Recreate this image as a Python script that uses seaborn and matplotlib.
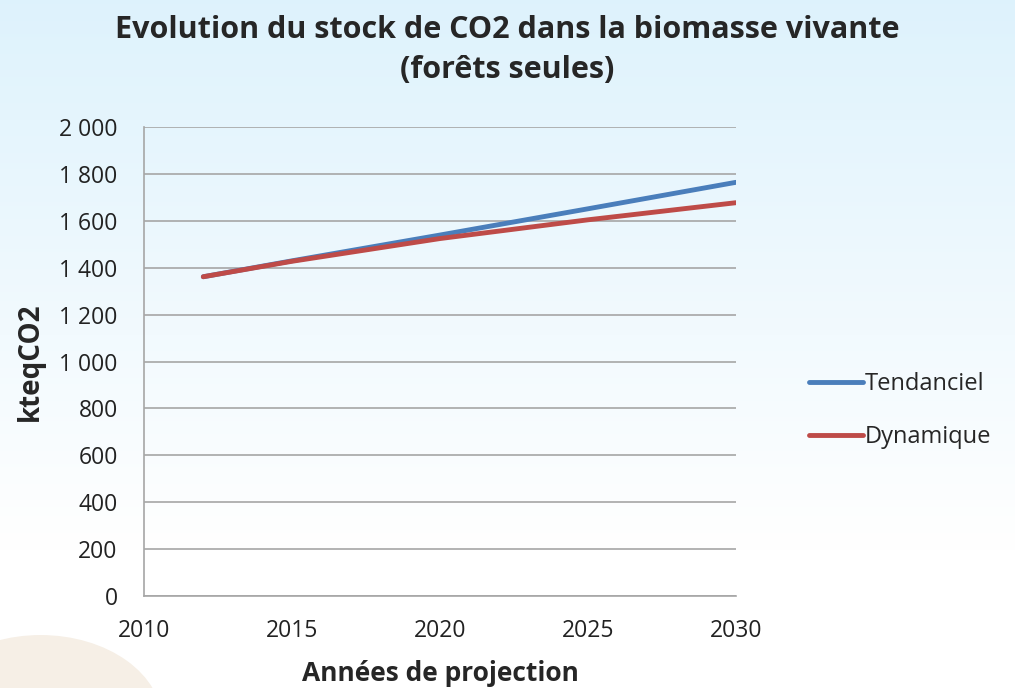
import numpy as np
import pandas as pd
import matplotlib
matplotlib.use("Agg")
import matplotlib.pyplot as plt
import seaborn as sns
from matplotlib.patches import Ellipse
from matplotlib.ticker import FuncFormatter

years = [2012, 2015, 2020, 2025, 2030]
tendanciel = [1362, 1430, 1540, 1652, 1765]
dynamique = [1362, 1428, 1525, 1605, 1678]
series_names = ["Tendanciel", "Dynamique"]
series_colors = ["#4a7ebb", "#be4b48"]

df = pd.DataFrame({"annee": years * 2,
                   "stock": tendanciel + dynamique,
                   "scenario": [series_names[0]] * len(years) + [series_names[1]] * len(years)})

sns.set_theme(style="white")
plt.rcParams['font.family'] = ['Open Sans', 'DejaVu Sans']

fig = plt.figure(figsize=(10.15, 6.88), dpi=100)

# background: light sky gradient + beige blob bottom-left
bg = fig.add_axes([0, 0, 1, 1], zorder=-10)
grad = np.linspace(0, 1, 256).reshape(-1, 1)
top = np.array([0.87, 0.95, 0.99])
bottom = np.array([1.0, 1.0, 1.0])
img = top + (bottom - top) * np.clip(grad * 1.25, 0, 1)[..., None]
img = np.repeat(img, 2, axis=1)
bg.imshow(img, aspect='auto', extent=[0, 1, 0, 1], origin='upper')
bg.add_patch(Ellipse((0.04, -0.05), 0.24, 0.254, color='#f6efe6', lw=0))
bg.set_xlim(0, 1)
bg.set_ylim(0, 1)
bg.axis('off')

ax = fig.add_axes([0.142, 0.134, 0.583, 0.681])
ax.patch.set_alpha(0)
sns.lineplot(data=df, x="annee", y="stock", hue="scenario", palette=series_colors,
             linewidth=3.5, ax=ax)

ax.set_xlim(2010, 2030)
ax.set_ylim(0, 2000)
ax.set_xticks(range(2010, 2031, 5))
ax.set_yticks(range(0, 2001, 200))
ax.yaxis.set_major_formatter(FuncFormatter(lambda v, p: f"{int(v):,}".replace(",", " ")))
ax.yaxis.grid(True, color='#a6a6a6', linewidth=1.2)
ax.xaxis.grid(False)
for s in ["top", "right"]:
    ax.spines[s].set_visible(False)
for s in ["left", "bottom"]:
    ax.spines[s].set_color('#a6a6a6')
    ax.spines[s].set_linewidth(1.2)
ax.tick_params(axis='both', length=0, labelsize=16.5, colors='#222222')
ax.tick_params(axis='x', pad=17)
ax.tick_params(axis='y', pad=19)

ax.set_xlabel("Années de projection", fontsize=19, fontweight='bold', labelpad=12)
ax.set_ylabel("kteqCO2", fontsize=20, fontweight='bold', labelpad=10)

fig.text(0.5, 0.927, "Evolution du stock de CO2 dans la biomasse vivante\n(forêts seules)",
         ha='center', va='center', fontsize=22, fontweight='bold', linespacing=1.45)

leg = ax.legend(loc='center left', bbox_to_anchor=(0.785, 0.403),
                bbox_transform=fig.transFigure, frameon=False, borderpad=0,
                fontsize=17, handlelength=2.3, handletextpad=0.1, labelspacing=1.25)
for line in leg.get_lines():
    line.set_linewidth(3.5)

fig.savefig("out.png", dpi=100, facecolor='white')
